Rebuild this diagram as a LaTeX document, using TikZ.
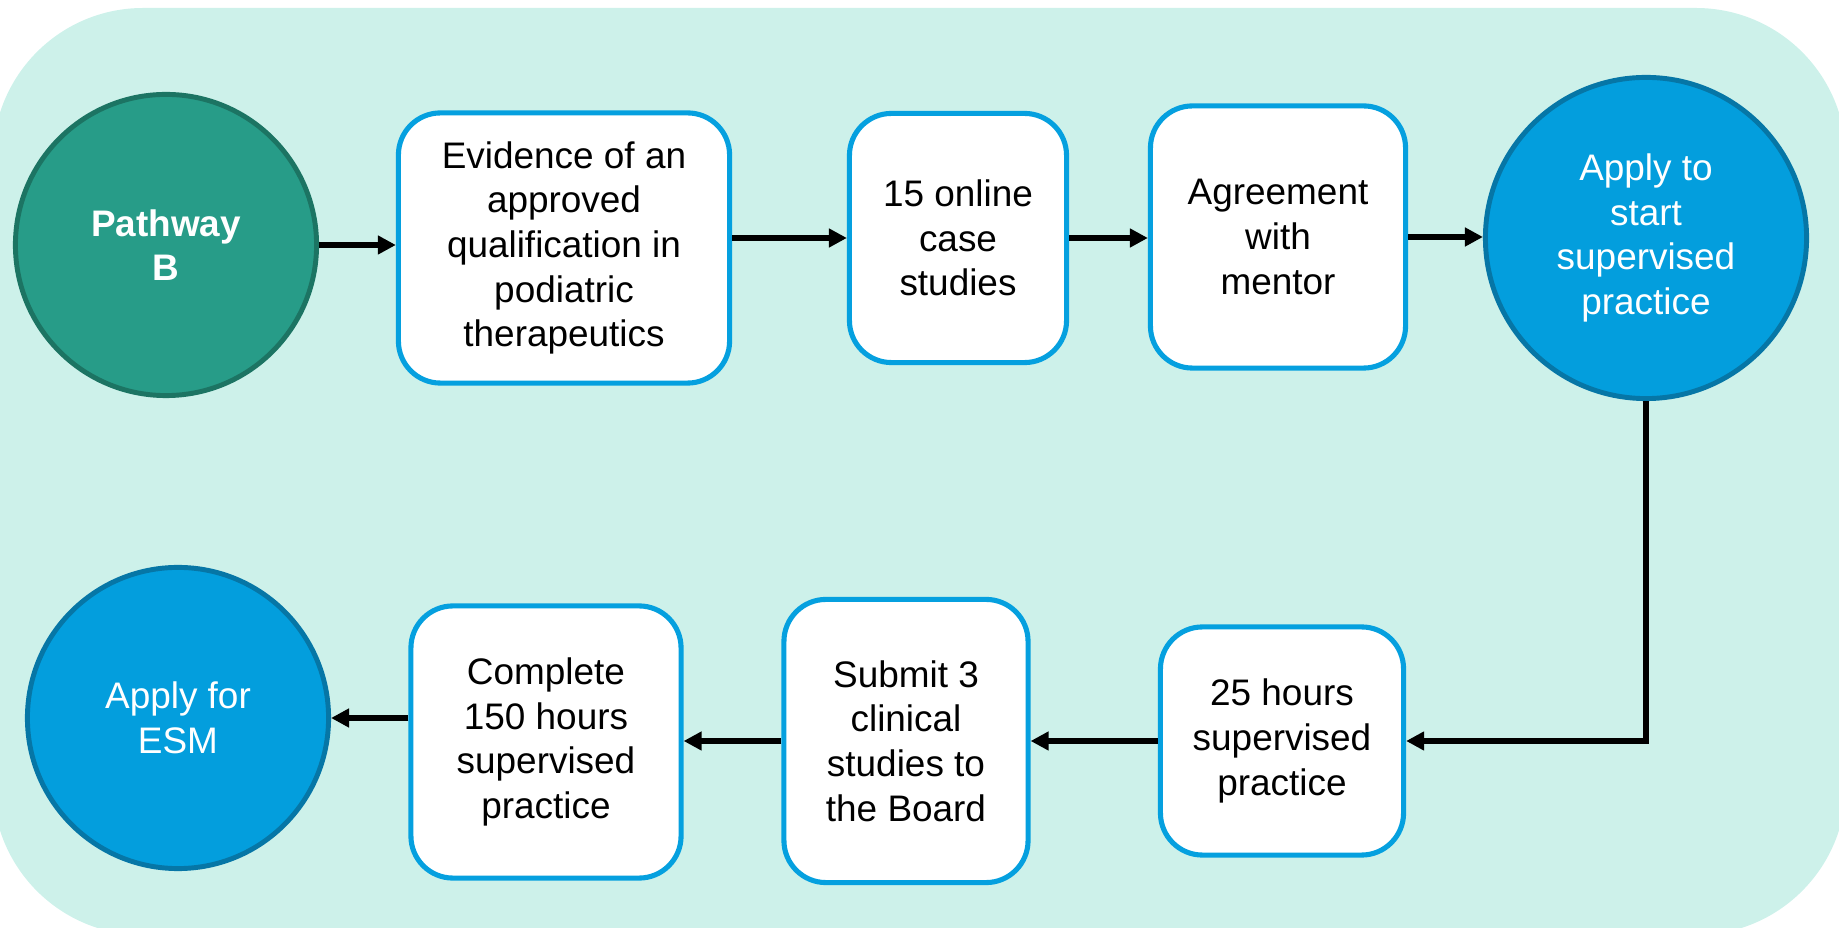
\documentclass[tikz,border=0pt]{standalone}
\usepackage{fontspec}
\setmainfont{Liberation Sans}
\usetikzlibrary{arrows.meta,positioning}
\definecolor{panel}{HTML}{CDF1EA}
\definecolor{boxline}{HTML}{05A0DF}
\definecolor{pathfill}{HTML}{279C88}
\definecolor{pathline}{HTML}{1C7463}
\definecolor{applyfill}{HTML}{039EDD}
\definecolor{applyline}{HTML}{0676A6}
\tikzset{
  stagebox/.style={draw=boxline, line width=1.45pt, fill=white, rounded corners=0.42cm,
    align=center, inner sep=0pt, font=\fontsize{10.5}{12.7}\selectfont},
  pathcircle/.style={circle, draw=pathline, fill=pathfill, line width=1.4pt, inner sep=0pt,
    minimum size=3.01cm, align=center, text=white, font=\fontsize{10.5}{12.7}\selectfont\bfseries},
  applycircle/.style={circle, draw=applyline, fill=applyfill, line width=1.4pt, inner sep=0pt,
    align=center, text=white, font=\fontsize{10.5}{12.7}\selectfont},
  arr/.style={-{Triangle[length=1.8mm, width=1.8mm]}, line width=1.8pt, draw=black}
}

\begin{document}
\begin{tikzpicture}[x=0.01cm,y=-0.01cm]
  \useasboundingbox (0,0) rectangle (1839,928);
  \clip (0,0) rectangle (1839,928);
  % panel
  \fill[panel, rounded corners=1.5cm] (-7,8) rectangle (1846,935);

  % top row
  \node[pathcircle] (pathway) at (166,245) {Pathway\\B};
  \node[stagebox, minimum width=3.31cm, minimum height=2.70cm] (evidence) at (564,248)
    {Evidence of an\\approved\\qualification in\\podiatric\\therapeutics};
  \node[stagebox, minimum width=2.17cm, minimum height=2.49cm] (cases) at (958,238)
    {15 online\\case\\studies};
  \node[stagebox, minimum width=2.55cm, minimum height=2.62cm] (mentor) at (1278,237)
    {Agreement\\with\\mentor};
  \node[applycircle, minimum size=3.21cm] (start) at (1646,238)
    {Apply to\\start\\supervised\\practice};

  % bottom row
  \node[stagebox, minimum width=2.43cm, minimum height=2.28cm] (hours) at (1282,741)
    {25 hours\\supervised\\practice};
  \node[stagebox, minimum width=2.44cm, minimum height=2.83cm] (submit) at (906,741)
    {Submit 3\\clinical\\studies to\\the Board};
  \node[stagebox, minimum width=2.70cm, minimum height=2.72cm] (complete) at (546,742)
    {Complete\\150 hours\\supervised\\practice};
  \node[applycircle, minimum size=3.01cm] (esm) at (178,718) {Apply for\\ESM};

  % connectors
  \draw[arr] (pathway.east) -- (evidence.west |- pathway.east);
  \draw[arr] (evidence.east |- cases.west) -- (cases.west);
  \draw[arr] (cases.east) -- (mentor.west |- cases.east);
  \draw[arr] (mentor.east) -- (start.west |- mentor.east);
  \draw[arr] (start.south) |- (hours.east);
  \draw[arr] (hours.west) -- (submit.east |- hours.west);
  \draw[arr] (submit.west) -- (complete.east |- submit.west);
  \draw[arr] (complete.west |- esm.east) -- (esm.east);
\end{tikzpicture}
\end{document}
